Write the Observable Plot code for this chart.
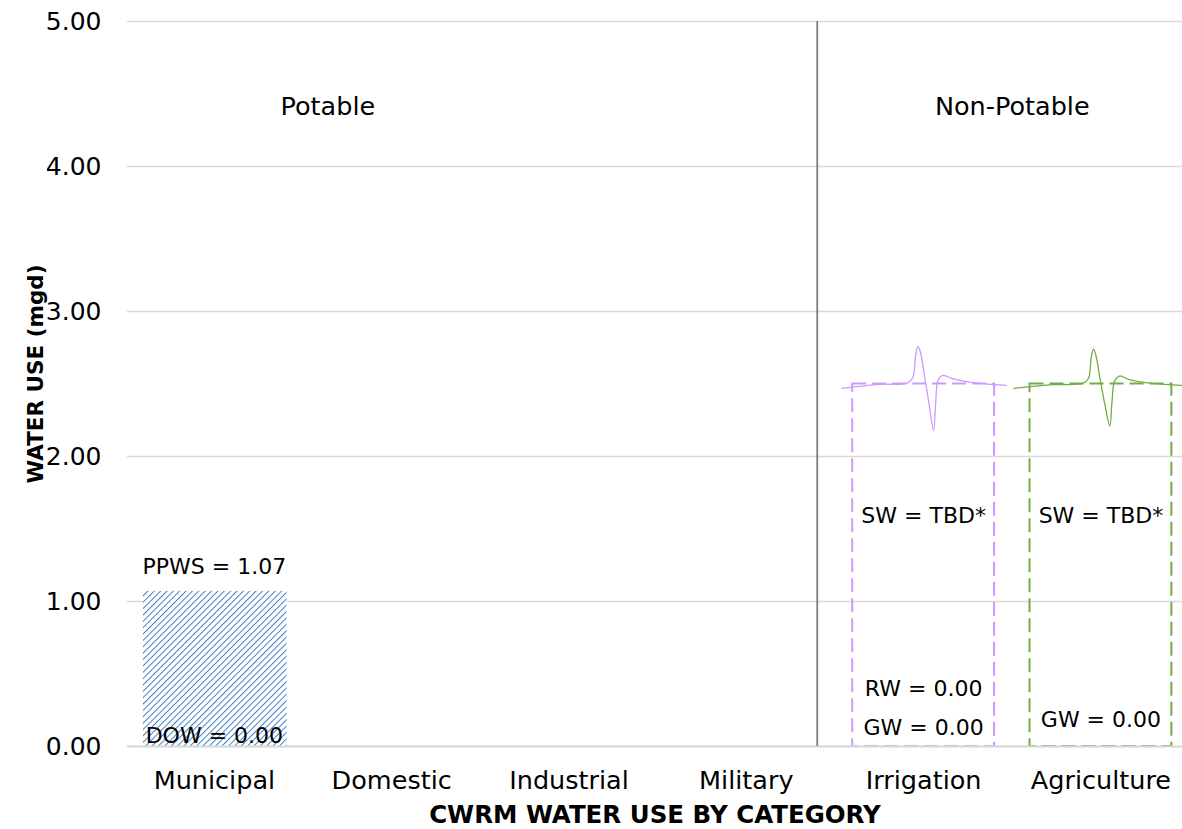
<!DOCTYPE html>
<html>
<head>
<meta charset="utf-8">
<script src="https://cdn.jsdelivr.net/npm/d3@7"></script>
<script src="https://cdn.jsdelivr.net/npm/@observablehq/plot@0.6"></script>
<style>
  html, body { margin: 0; padding: 0; background: #fff; }
  #chart svg { display: block; }
</style>
</head>
<body>
<div id="chart"></div>
<script>
// ---- Data ----
const categories = ["Municipal", "Domestic", "Industrial", "Military", "Irrigation", "Agriculture"];
const potableValues = [1.07, 0, 0, 0, null, null];      // hatched bar (PPWS)
const nonPotableValues = [null, null, null, null, 2.50, 2.50]; // dashed outlines (TBD)
const yTicks = [0, 1, 2, 3, 4, 5];
const groupLabels = ["Potable", "Non-Potable"];

// break-symbol line (offset from category centre, value)
const irrigationBreakDx = [-0.46, -0.25, -0.09, -0.06, -0.045, -0.032, -0.019, 0.006, 0.030, 0.056, 0.068, 0.081, 0.109, 0.165, 0.259, 0.466];
const irrigationBreakY  = [2.47, 2.497, 2.508, 2.547, 2.70, 2.76, 2.724, 2.547, 2.366, 2.18, 2.366, 2.524, 2.559, 2.536, 2.513, 2.49];
const agricultureBreakDx = [-0.49, -0.27, -0.10, -0.07, -0.055, -0.042, -0.029, -0.004, 0.022, 0.05, 0.062, 0.077, 0.105, 0.16, 0.25, 0.46];
const agricultureBreakY  = [2.47, 2.495, 2.506, 2.54, 2.68, 2.74, 2.70, 2.53, 2.36, 2.21, 2.37, 2.52, 2.555, 2.53, 2.51, 2.49];

// annotations: text, category index, value
const annoText = ["PPWS = 1.07", "DOW = 0.00", "SW = TBD*", "RW = 0.00", "GW = 0.00", "SW = TBD*", "GW = 0.00"];
const annoCat  = [0, 0, 4, 4, 4, 5, 5];
const annoY    = [1.24, 0.076, 1.59, 0.40, 0.131, 1.59, 0.186];

// ---- Build tables ----
const barHalf = 0.4;
const potable = categories.map((c, i) => ({i, c, v: potableValues[i]})).filter(d => d.v != null && d.v > 0);
const nonPotable = categories.map((c, i) => ({i, c, v: nonPotableValues[i]})).filter(d => d.v != null);
const breaks = [
  ...irrigationBreakDx.map((dx, k) => ({s: "Irrigation", x: 4 + dx, y: irrigationBreakY[k]})),
  ...agricultureBreakDx.map((dx, k) => ({s: "Agriculture", x: 5 + dx, y: agricultureBreakY[k]}))
];
const annos = annoText.map((t, k) => ({t, x: annoCat[k], y: annoY[k]}));
const outlineColor = {Irrigation: "#cc99ff", Agriculture: "#70ad47"};

const plot = Plot.plot({
  width: 1182,
  height: 829,
  marginTop: 21,
  marginBottom: 83,
  marginLeft: 127,
  marginRight: 0,
  style: {fontFamily: "DejaVu Sans", color: "#000", background: "#fff"},
  x: {type: "linear", domain: [-0.49, 5.46]},
  y: {domain: [0, 5]},
  marks: [
    Plot.gridY(yTicks, {stroke: "#d9d9d9", strokeOpacity: 1, strokeWidth: 1.5}),
    Plot.rectY(potable, {x1: d => d.i - barHalf, x2: d => d.i + barHalf + 0.01, y: "v", fill: "url(#hatch)"}),
    Plot.rectY(nonPotable, {x1: d => d.i - barHalf, x2: d => d.i + barHalf, y: "v", fill: "none",
      stroke: d => outlineColor[d.c], strokeWidth: 2, strokeDasharray: "14,6"}),
    Plot.ruleY([0], {stroke: "#d9d9d9", strokeWidth: 2}),
    Plot.line(breaks, {x: "x", y: "y", z: "s", stroke: d => outlineColor[d.s], strokeWidth: 1.3, curve: "catmull-rom"}),
    Plot.ruleX([3.4], {stroke: "#7f7f7f", strokeWidth: 1.8}),
    Plot.text(annos, {x: "x", y: "y", text: "t", fontSize: 22, fill: "#000"}),
    Plot.text(groupLabels, {x: [0.64, 4.5], y: [4.41, 4.41], text: d => d, fontSize: 25.5, fill: "#000"}),
    Plot.axisY({ticks: yTicks, tickFormat: d3.format(".2f"), tickSize: 0, tickPadding: 26, fontSize: 25, label: null}),
    Plot.axisX({ticks: yTicks.slice(0, categories.length).map((_, i) => i), tickFormat: i => categories[i], tickSize: 0, tickPadding: 24, fontSize: 25.5, label: null}),
    Plot.text(["CWRM WATER USE BY CATEGORY"], {frameAnchor: "bottom", dy: 76, fontSize: 24.5, fontWeight: "bold", fill: "#000"}),
    Plot.text(["WATER USE (mgd)"], {frameAnchor: "left", textAnchor: "middle", dx: -91, dy: -10, rotate: -90, fontSize: 21.5, fontWeight: "bold", fill: "#000"})
  ]
});

d3.select(plot).insert("defs", ":first-child").html(
  `<pattern id="hatch" width="4.5" height="4.5" patternUnits="userSpaceOnUse" patternTransform="rotate(45)">
     <rect width="4.5" height="4.5" fill="#ffffff"/>
     <line x1="0" y1="0" x2="0" y2="4.5" stroke="#3f7fc4" stroke-width="2"/>
   </pattern>`
);

document.getElementById("chart").appendChild(plot);
</script>
</body>
</html>
